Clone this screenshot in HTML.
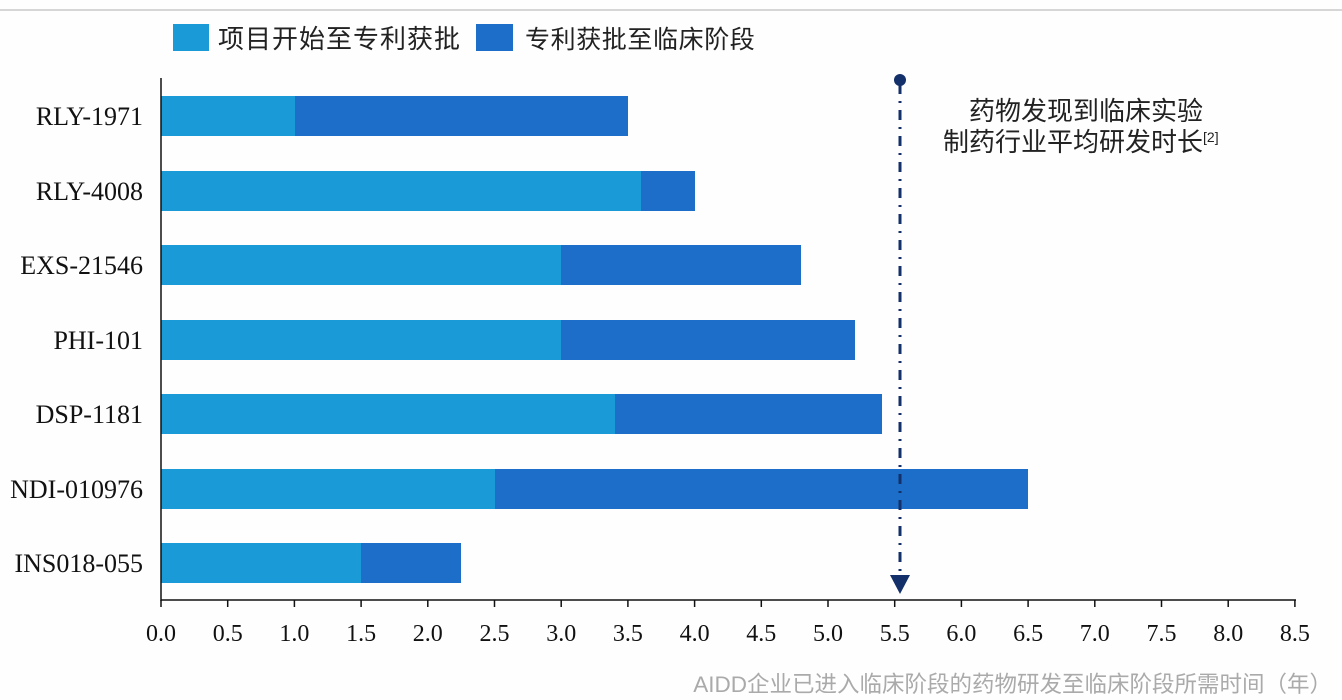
<!DOCTYPE html>
<html><head><meta charset="utf-8"><style>
html,body{margin:0;padding:0;background:#fff;}
svg{display:block;}
.cn{font-family:"Liberation Sans","Noto Sans CJK SC",sans-serif;}
.sr{font-family:"Liberation Serif",serif;}
</style></head><body>
<svg width="1342" height="700" viewBox="0 0 1342 700" xmlns="http://www.w3.org/2000/svg">
<rect width="1342" height="700" fill="#fefefe"/>
<line x1="0" y1="10" x2="1342" y2="10" stroke="#c8c8c8" stroke-width="1.5"/>
<!-- legend -->
<rect x="173" y="24" width="36" height="27" fill="#1a9bd8"/>
<text x="218" y="48" class="cn" font-size="26" letter-spacing="1" fill="#222">项目开始至专利获批</text>
<rect x="476" y="24" width="37" height="27" fill="#1c6ec8"/>
<text x="525" y="48" class="cn" font-size="25" letter-spacing="0.6" fill="#222">专利获批至临床阶段</text>
<!-- bars -->
<g>
<rect x="161" y="96" width="134" height="40" fill="#1a9bd8"/><rect x="295" y="96" width="333" height="40" fill="#1c6ec8"/>
<rect x="161" y="171" width="480" height="40" fill="#1a9bd8"/><rect x="641" y="171" width="54" height="40" fill="#1c6ec8"/>
<rect x="161" y="245" width="400" height="40" fill="#1a9bd8"/><rect x="561" y="245" width="240" height="40" fill="#1c6ec8"/>
<rect x="161" y="320" width="400" height="40" fill="#1a9bd8"/><rect x="561" y="320" width="294" height="40" fill="#1c6ec8"/>
<rect x="161" y="394" width="454" height="40" fill="#1a9bd8"/><rect x="615" y="394" width="267" height="40" fill="#1c6ec8"/>
<rect x="161" y="469" width="334" height="40" fill="#1a9bd8"/><rect x="495" y="469" width="533" height="40" fill="#1c6ec8"/>
<rect x="161" y="543" width="200" height="40" fill="#1a9bd8"/><rect x="361" y="543" width="100" height="40" fill="#1c6ec8"/>
</g>
<!-- y labels -->
<g class="sr" font-size="26" fill="#111" text-anchor="end">
<text x="143" y="125">RLY-1971</text>
<text x="143" y="200">RLY-4008</text>
<text x="143" y="274">EXS-21546</text>
<text x="143" y="349">PHI-101</text>
<text x="143" y="423">DSP-1181</text>
<text x="143" y="498">NDI-010976</text>
<text x="143" y="572">INS018-055</text>
</g>
<!-- axes -->
<line x1="161" y1="78" x2="161" y2="601" stroke="#111" stroke-width="1.5"/>
<line x1="161" y1="600" x2="1296" y2="600" stroke="#111" stroke-width="1.5"/>
<g stroke="#111" stroke-width="1.5">
<line x1="161" y1="600" x2="161" y2="607"/><line x1="227.7" y1="600" x2="227.7" y2="607"/><line x1="294.4" y1="600" x2="294.4" y2="607"/><line x1="361.1" y1="600" x2="361.1" y2="607"/><line x1="427.8" y1="600" x2="427.8" y2="607"/><line x1="494.5" y1="600" x2="494.5" y2="607"/><line x1="561.2" y1="600" x2="561.2" y2="607"/><line x1="627.9" y1="600" x2="627.9" y2="607"/><line x1="694.6" y1="600" x2="694.6" y2="607"/><line x1="761.3" y1="600" x2="761.3" y2="607"/><line x1="828" y1="600" x2="828" y2="607"/><line x1="894.7" y1="600" x2="894.7" y2="607"/><line x1="961.4" y1="600" x2="961.4" y2="607"/><line x1="1028.1" y1="600" x2="1028.1" y2="607"/><line x1="1094.8" y1="600" x2="1094.8" y2="607"/><line x1="1161.5" y1="600" x2="1161.5" y2="607"/><line x1="1228.2" y1="600" x2="1228.2" y2="607"/><line x1="1294.9" y1="600" x2="1294.9" y2="607"/>
</g>
<g class="sr" font-size="24" fill="#111" text-anchor="middle">
<text x="161" y="641">0.0</text><text x="227.7" y="641">0.5</text><text x="294.4" y="641">1.0</text><text x="361.1" y="641">1.5</text><text x="427.8" y="641">2.0</text><text x="494.5" y="641">2.5</text><text x="561.2" y="641">3.0</text><text x="627.9" y="641">3.5</text><text x="694.6" y="641">4.0</text><text x="761.3" y="641">4.5</text><text x="828" y="641">5.0</text><text x="894.7" y="641">5.5</text><text x="961.4" y="641">6.0</text><text x="1028.1" y="641">6.5</text><text x="1094.8" y="641">7.0</text><text x="1161.5" y="641">7.5</text><text x="1228.2" y="641">8.0</text><text x="1294.9" y="641">8.5</text>
</g>
<!-- reference line -->
<line x1="900" y1="84" x2="900" y2="578" stroke="#14306a" stroke-width="3" stroke-dasharray="10,7,2,7"/>
<circle cx="900" cy="80" r="6" fill="#14306a"/>
<line x1="900" y1="80" x2="900" y2="92" stroke="#14306a" stroke-width="3"/>
<polygon points="890,575 910,575 900,594" fill="#14306a"/>
<text x="1086" y="120" class="cn" font-size="26" fill="#222" text-anchor="middle">药物发现到临床实验</text>
<text x="943" y="151" class="cn" font-size="26" fill="#222">制药行业平均研发时长<tspan font-size="14" dy="-9">[2]</tspan></text>
<text x="1332" y="692" class="cn" font-size="22.5" fill="#aaa" text-anchor="end">AIDD企业已进入临床阶段的药物研发至临床阶段所需时间（年）</text>
</svg>
</body></html>
